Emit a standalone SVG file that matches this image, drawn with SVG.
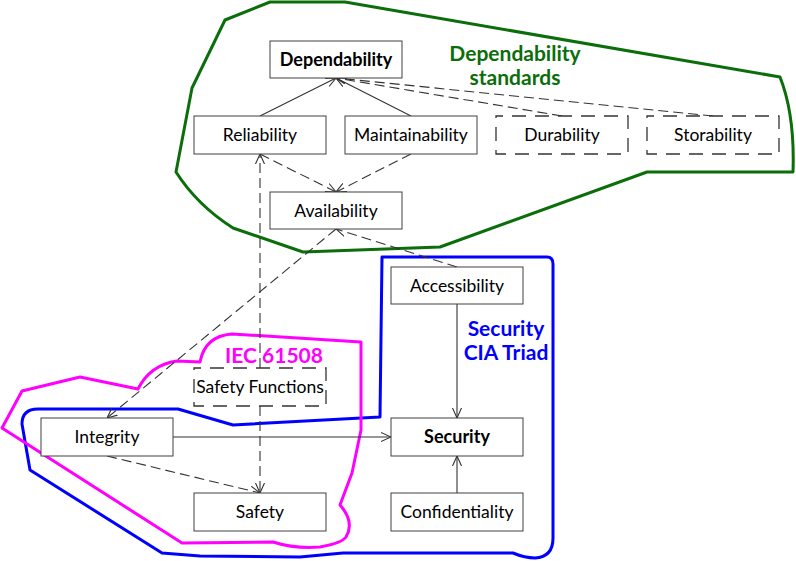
<svg xmlns="http://www.w3.org/2000/svg" width="796" height="561" viewBox="0 0 796 561">
<defs>
<marker id="arr" viewBox="0 0 10 10" refX="10" refY="5" markerWidth="10" markerHeight="10" markerUnits="userSpaceOnUse" orient="auto-start-reverse">
<path d="M0,0.5 L10,5 L0,9.5" fill="none" stroke="#333" stroke-width="1.1"/>
</marker>
<style>
.box{fill:#fff;stroke:#404040;stroke-width:1}
.dbox{fill:#fff;stroke:#333;stroke-width:1.3;stroke-dasharray:14 9;stroke-dashoffset:7}
.t{font-family:Lato,"Liberation Sans",sans-serif;font-size:17.5px;fill:#000;text-anchor:middle}
.tb{font-family:Lato,"Liberation Sans",sans-serif;font-size:18px;font-weight:bold;fill:#000;text-anchor:middle}
.lab{font-family:Lato,"Liberation Sans",sans-serif;font-size:21px;font-weight:bold;text-anchor:middle}
.c{fill:none;stroke:#333;stroke-width:1.1;marker-end:url(#arr)}
.d{stroke-dasharray:10 5}
.region{fill:none;stroke-width:3;stroke-linejoin:round}
</style>
</defs>

<g id="regions">
<path id="dependability-standards" class="region" stroke="#0b6e0b" d="M270,2 L345,2 L780,77 Q795,115 793,172 L647,172 L440,247 L303,252 L233,228 Q197,205 176,172 L192,88 L225,20 Z"/>
<path id="security-cia" class="region" stroke="#0000ff" d="M382,257 L547,257 Q553,257 553,264 L553,538 Q553,557 535,558 Q525,558 513,553 L343,553 L300,557 L200,556 L162,553 L30,470 L22,424 Q22,409 38,409 L178,409 L233,425 L380,417 Z"/>
<path id="iec-61508" class="region" stroke="#ff00ff" d="M2,428 L22,391 L80,377 L138,389 Q150,365 177,361 L200,362 Q205,336 232,334 L361,342 L361,430 L352,473 L340,505 Q355,522 346,537 Q342,543 320,547 Q295,549 273,542 L182,543 Z"/>
</g>

<g id="connectors">
<path class="c" d="M260,116 L336,78"/>
<path class="c" d="M411,116 L336,78"/>
<path class="c d" d="M562,116 L336,78"/>
<path class="c d" d="M713,116 L336,78"/>
<path class="c d" d="M260,154 L336,192"/>
<path class="c d" d="M411,154 L336,192"/>
<path class="c d" d="M260,368 L260,154"/>
<path class="c d" d="M260,406 L260,493"/>
<path class="c d" d="M457,267 L336,229"/>
<path class="c d" d="M336,229 L107,418"/>
<path class="c" d="M173,437 L391,437"/>
<path class="c d" d="M107,456 L260,493"/>
<path class="c" d="M457,304 L457,418"/>
<path class="c" d="M457,493 L457,456"/>
</g>

<g id="dependability"><rect class="box" x="270" y="41" width="132" height="37"/><text class="tb" x="336" y="65.5">Dependability</text></g>
<g id="reliability"><rect class="box" x="194" y="116" width="132" height="38"/><text class="t" x="260" y="141">Reliability</text></g>
<g id="maintainability"><rect class="box" x="345" y="116" width="132" height="38"/><text class="t" x="411" y="141">Maintainability</text></g>
<g id="durability"><rect class="dbox" x="496" y="116" width="132" height="38"/><text class="t" x="562" y="141">Durability</text></g>
<g id="storability"><rect class="dbox" x="647" y="116" width="132" height="38"/><text class="t" x="713" y="141">Storability</text></g>
<g id="availability"><rect class="box" x="270" y="192" width="132" height="37"/><text class="t" x="336" y="216.5">Availability</text></g>
<g id="accessibility"><rect class="box" x="391" y="267" width="132" height="37"/><text class="t" x="457" y="291.5">Accessibility</text></g>
<g id="safety-functions"><rect class="dbox" x="194" y="368" width="132" height="38"/><text class="t" x="260" y="393">Safety Functions</text></g>
<g id="integrity"><rect class="box" x="41" y="418" width="132" height="38"/><text class="t" x="107" y="443">Integrity</text></g>
<g id="security"><rect class="box" x="391" y="418" width="132" height="38"/><text class="tb" x="457" y="443">Security</text></g>
<g id="safety"><rect class="box" x="194" y="493" width="132" height="38"/><text class="t" x="260" y="518">Safety</text></g>
<g id="confidentiality"><rect class="box" x="391" y="493" width="132" height="38"/><text class="t" x="457" y="518">Confidentiality</text></g>

<g id="labels">
<text class="lab" fill="#0b6e0b" x="515" y="61">Dependability</text>
<text class="lab" fill="#0b6e0b" x="515" y="85">standards</text>
<text class="lab" fill="#0000ff" x="506" y="336">Security</text>
<text class="lab" fill="#0000ff" x="506" y="360">CIA Triad</text>
<text class="lab" fill="#ff00ff" x="274" y="363">IEC 61508</text>
</g>
</svg>
